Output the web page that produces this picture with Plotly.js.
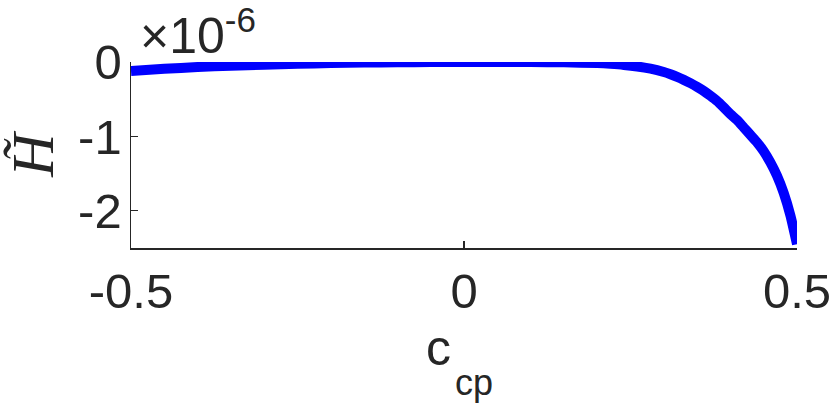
<!DOCTYPE html>
<html>
<head>
<meta charset="utf-8">
<script src="https://cdn.plot.ly/plotly-3.0.1.min.js"></script>
<style>html,body{margin:0;padding:0;background:#fff;}#chart{width:830px;height:406px;}</style>
</head>
<body>
<div id="chart"></div>
<script>
// c_cp values and H-tilde values (in units of 1e-6)
var ccp = [-0.5,-0.45,-0.4,-0.35,-0.3,-0.25,-0.2,-0.15,-0.1,-0.05,0,0.05,0.1,0.15,0.2,0.22,0.24,0.26,0.28,0.3,0.31,0.32,0.33,0.34,0.35,0.36,0.37,0.38,0.39,0.4,0.41,0.42,0.43,0.44,0.45,0.46,0.47,0.48,0.49,0.5];
var Htilde = [-0.12,-0.092,-0.068,-0.05,-0.036,-0.024,-0.015,-0.008,-0.004,-0.001,0,0,-0.001,-0.005,-0.015,-0.025,-0.039,-0.06,-0.09,-0.135,-0.165,-0.2,-0.24,-0.285,-0.335,-0.39,-0.455,-0.525,-0.61,-0.70,-0.78,-0.88,-0.98,-1.08,-1.2,-1.35,-1.53,-1.76,-2.06,-2.45];
var xTicks = [-0.5, 0, 0.5];
var xTickText = ['-0.5', '0', '0.5'];
var yTicks = [-2, -1, 0];
var yTickText = ['-2', '-1', '0'];

var axCol = '#262626';
var sans = 'Liberation Sans, Arial, Helvetica, sans-serif';
var serif = 'Liberation Serif, Times New Roman, serif';

var trace = {
  x: ccp, y: Htilde, type: 'scatter', mode: 'lines',
  line: {color: '#0000ff', width: 10, shape: 'spline', smoothing: 0.6},
  cliponaxis: false, hoverinfo: 'skip'
};

var layout = {
  width: 830, height: 406,
  margin: {l: 131, r: 33, t: 62, b: 158, pad: 0},
  paper_bgcolor: '#ffffff', plot_bgcolor: '#ffffff',
  showlegend: false,
  xaxis: {
    range: [-0.5, 0.5], tickvals: xTicks, ticktext: xTickText,
    ticks: 'inside', ticklen: 7, tickwidth: 1.2, tickcolor: axCol,
    showline: true, linecolor: axCol, linewidth: 1.5, mirror: false,
    showgrid: false, zeroline: false,
    tickfont: {family: sans, size: 49, color: axCol},
    ticklabelstandoff: 0, ticklabeloverflow: 'allow'
  },
  yaxis: {
    range: [-2.5, 0], tickvals: yTicks, ticktext: yTickText,
    ticks: 'inside', ticklen: 7, tickwidth: 1.2, tickcolor: axCol,
    showline: true, linecolor: axCol, linewidth: 1.5, mirror: false,
    showgrid: false, zeroline: false,
    tickfont: {family: sans, size: 49, color: axCol},
    ticklabelstandoff: -2, ticklabeloverflow: 'allow',
    title: {text: '<i>H\u0303</i>', standoff: 13,
            font: {family: serif, size: 60, color: axCol}}
  },
  annotations: [
    {xref: 'paper', yref: 'paper', x: 0.0105, y: 1, xanchor: 'left', yanchor: 'bottom',
     yshift: -4, showarrow: false, text: '×10<sup>-6</sup>',
     font: {family: sans, size: 50, color: axCol}},
    {xref: 'paper', yref: 'paper', x: 0.4835, y: 0, xanchor: 'right', yanchor: 'top',
     yshift: -70, showarrow: false, text: 'c',
     font: {family: sans, size: 50, color: axCol}},
    {xref: 'paper', yref: 'paper', x: 0.4835, y: 0, xanchor: 'left', yanchor: 'top',
     yshift: -112, showarrow: false, text: 'cp',
     font: {family: sans, size: 36, color: axCol}}
  ]
};

Plotly.newPlot('chart', [trace], layout, {staticPlot: true, displayModeBar: false});
</script>
</body>
</html>
